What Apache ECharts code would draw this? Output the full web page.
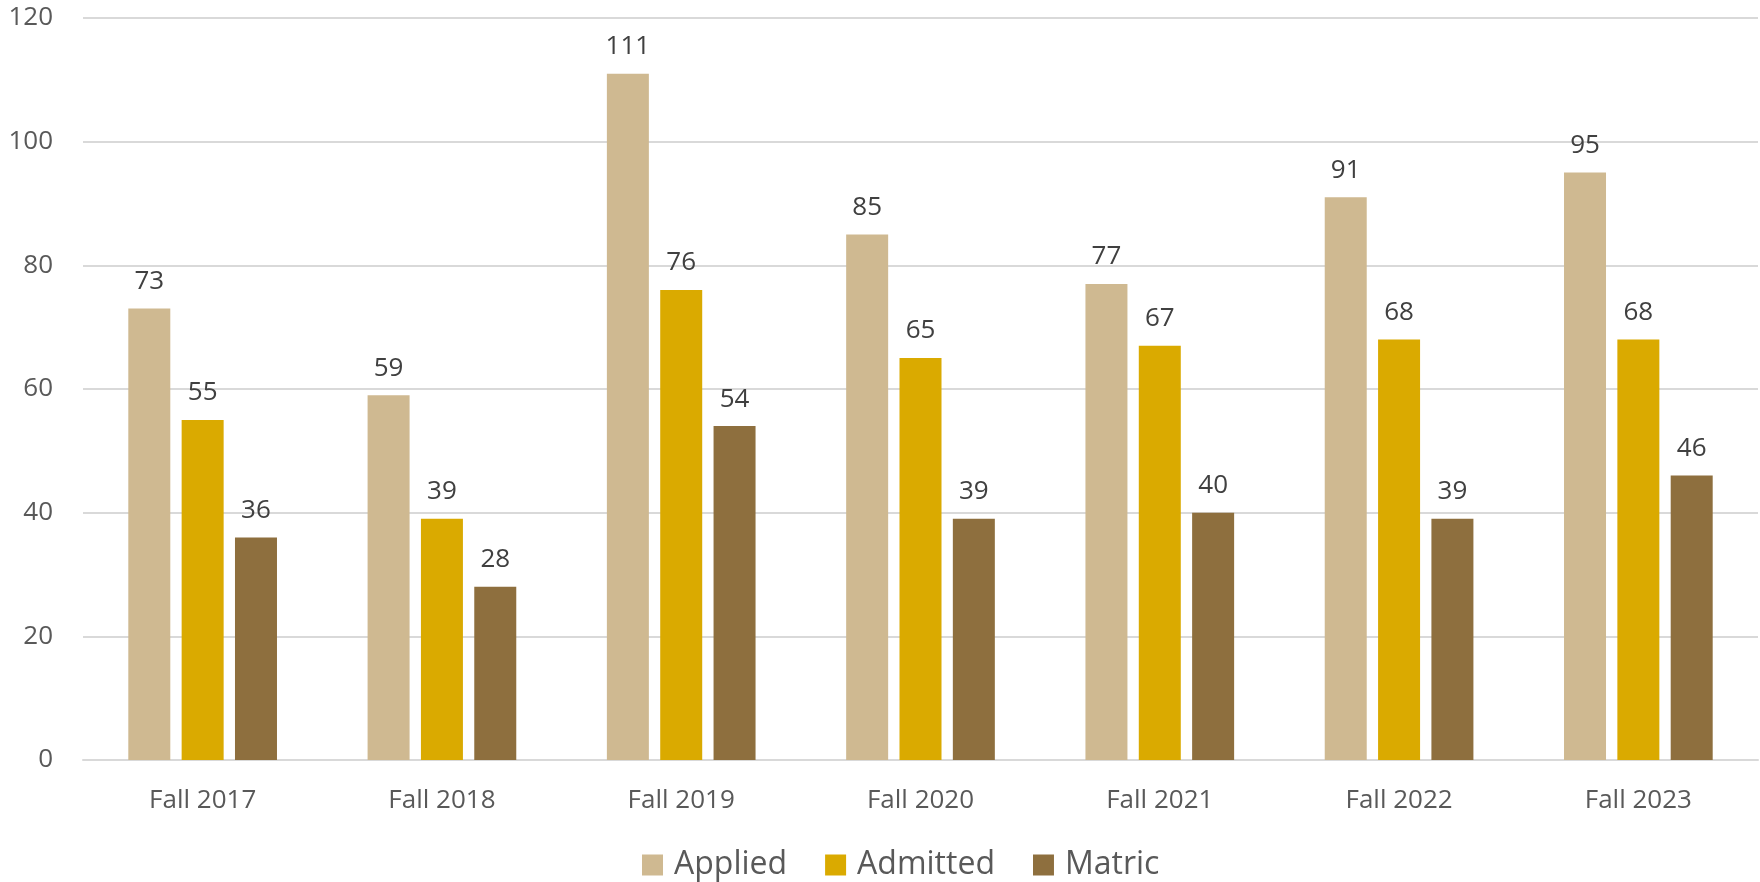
<!DOCTYPE html>
<html>
<head>
<meta charset="utf-8">
<script src="https://cdn.jsdelivr.net/npm/echarts@6/dist/echarts.min.js"></script>
<style>
  html, body { margin: 0; padding: 0; background: #fff; }
  #chart { width: 1760px; height: 882px; }
</style>
</head>
<body>
<div id="chart"></div>
<script>
var terms = ['Fall 2017', 'Fall 2018', 'Fall 2019', 'Fall 2020', 'Fall 2021', 'Fall 2022', 'Fall 2023'];
var applied = [73, 59, 111, 85, 77, 91, 95];
var admitted = [55, 39, 76, 65, 67, 68, 68];
var matric = [36, 28, 54, 39, 40, 39, 46];

var font = '"Open Sans", "Liberation Sans", sans-serif';

function barSeries(name, data, color) {
    return {
        name: name,
        type: 'bar',
        data: data,
        barWidth: 42,
        barGap: '27%',
        itemStyle: { color: color },
        label: {
            show: true,
            position: 'top',
            distance: 14,
            color: '#404040',
            fontFamily: font,
            fontSize: 26
        }
    };
}

var chart = echarts.init(document.getElementById('chart'));
var option = {
    animation: false,
    textStyle: { fontFamily: font },
    grid: { left: 83, right: 2, top: 18, bottom: 122 },
    legend: {
        left: 637,
        top: 844,
        itemWidth: 21,
        itemHeight: 21,
        itemGap: 38,
        icon: 'rect',
        textStyle: { color: '#595959', fontSize: 32, fontFamily: font, padding: [0, 0, 0, 6] },
        data: ['Applied', 'Admitted', 'Matric']
    },
    xAxis: {
        type: 'category',
        data: terms,
        axisLine: { lineStyle: { color: '#d9d9d9', width: 2 } },
        axisTick: { show: false },
        axisLabel: { color: '#595959', fontSize: 26, fontFamily: font, margin: 28 }
    },
    yAxis: {
        type: 'value',
        min: 0,
        max: 120,
        interval: 20,
        axisLine: { show: false },
        axisTick: { show: false },
        axisLabel: { color: '#595959', fontSize: 26, fontFamily: font, margin: 30 },
        splitLine: { lineStyle: { color: '#d9d9d9', width: 2 } }
    },
    series: [
        barSeries('Applied', applied, '#CFB991'),
        barSeries('Admitted', admitted, '#DAAA00'),
        barSeries('Matric', matric, '#8E6F3E')
    ]
};
chart.setOption(option);
</script>
</body>
</html>
